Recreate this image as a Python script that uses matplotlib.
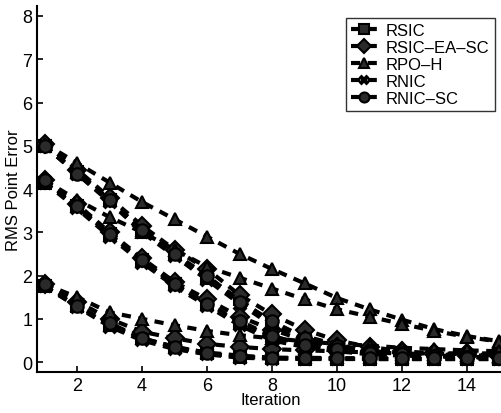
import numpy as np
from matplotlib import pyplot as plt

plt.rcParams['font.family'] = ['Liberation Sans', 'DejaVu Sans']

iterations = np.arange(1, 16)
methods = ['RSIC', 'RSIC–EA–SC', 'RPO–H', 'RNIC', 'RNIC–SC']
markers = ['s', 'D', '^', 'x', 'o']

## three starting error levels, one line per method each
rsic = [
    [5.00, 4.40, 3.75, 3.05, 2.50, 1.95, 1.45, 0.90, 0.60, 0.40, 0.25, 0.20, 0.15, 0.12, 0.10],
    [4.15, 3.60, 2.95, 2.35, 1.80, 1.35, 0.90, 0.60, 0.40, 0.28, 0.20, 0.16, 0.14, 0.12, 0.10],
    [1.75, 1.30, 0.85, 0.55, 0.35, 0.20, 0.12, 0.10, 0.08, 0.08, 0.07, 0.07, 0.07, 0.07, 0.07],
]
rsic_ea_sc = [
    [5.05, 4.45, 3.80, 3.15, 2.60, 2.15, 1.55, 1.10, 0.75, 0.50, 0.35, 0.25, 0.20, 0.18, 0.15],
    [4.20, 3.65, 3.00, 2.40, 1.85, 1.45, 1.05, 0.75, 0.50, 0.35, 0.25, 0.20, 0.18, 0.15, 0.15],
    [1.80, 1.40, 1.00, 0.70, 0.55, 0.42, 0.35, 0.30, 0.27, 0.25, 0.22, 0.20, 0.20, 0.20, 0.20],
]
rpo_h = [
    [5.05, 4.60, 4.15, 3.70, 3.30, 2.90, 2.50, 2.15, 1.82, 1.48, 1.22, 0.98, 0.76, 0.60, 0.48],
    [4.20, 3.75, 3.35, 3.00, 2.60, 2.20, 1.95, 1.70, 1.45, 1.22, 1.05, 0.88, 0.72, 0.58, 0.47],
    [1.80, 1.50, 1.15, 1.00, 0.85, 0.72, 0.62, 0.55, 0.48, 0.42, 0.38, 0.33, 0.30, 0.27, 0.25],
]
rnic = [
    [5.00, 4.35, 3.70, 3.00, 2.45, 1.90, 1.35, 0.85, 0.50, 0.35, 0.22, 0.18, 0.14, 0.12, 0.10],
    [4.15, 3.55, 2.90, 2.30, 1.75, 1.30, 0.85, 0.50, 0.35, 0.25, 0.18, 0.15, 0.13, 0.12, 0.10],
    [1.75, 1.28, 0.82, 0.50, 0.30, 0.18, 0.10, 0.08, 0.07, 0.07, 0.07, 0.07, 0.07, 0.07, 0.07],
]
rnic_sc = [
    [5.00, 4.35, 3.75, 3.05, 2.50, 2.00, 1.40, 0.95, 0.55, 0.38, 0.25, 0.20, 0.15, 0.12, 0.10],
    [4.20, 3.60, 2.95, 2.35, 1.80, 1.35, 0.95, 0.60, 0.40, 0.30, 0.22, 0.18, 0.15, 0.12, 0.10],
    [1.80, 1.30, 0.90, 0.55, 0.35, 0.22, 0.15, 0.10, 0.10, 0.09, 0.09, 0.09, 0.09, 0.09, 0.09],
]
series = [rsic, rsic_ea_sc, rpo_h, rnic, rnic_sc]

fig = plt.figure(figsize=(5.02, 4.14), dpi=100)
ax = fig.add_axes([0.074, 0.099, 0.93, 0.884])

for name, mk, levels in zip(methods, markers, series):
    for i, vals in enumerate(levels):
        ax.plot(iterations, vals, linestyle=(0, (2.2, 1.8)), linewidth=3,
                color='black', marker=mk, markersize=9 if mk != 'x' else 8,
                markerfacecolor='#2a2a2a', markeredgecolor='black',
                markeredgewidth=1.5 if mk != 'x' else 3,
                label=name if i == 0 else None)

ax.set_xlim(0.77, 15.14)
ax.set_ylim(-0.23, 8.23)
ax.set_xticks([2, 4, 6, 8, 10, 12, 14])
ax.set_yticks(range(0, 9))
ax.tick_params(direction='in', labelsize=13, width=1.2, length=4)
for side in ['top', 'right']:
    ax.spines[side].set_visible(False)
for side in ['left', 'bottom']:
    ax.spines[side].set_linewidth(1.5)

ax.set_xlabel('Iteration', fontsize=12, labelpad=-1)
ax.set_ylabel('RMS Point Error', fontsize=12, labelpad=1)

leg = ax.legend(loc='upper right', bbox_to_anchor=(0.998, 0.99), fontsize=12,
                frameon=True, fancybox=False, handlelength=1.6,
                borderpad=0.3, labelspacing=0.12, handletextpad=0.5,
                markerscale=0.8)
leg.get_frame().set_edgecolor('black')
leg.get_frame().set_linewidth(1.0)

plt.savefig('out.png', dpi=100)
